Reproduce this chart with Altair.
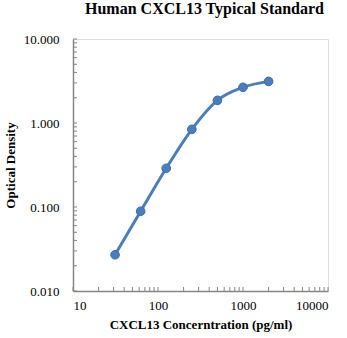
import altair as alt
import pandas as pd

conc = [31.25, 62.5, 125, 250, 500, 1000, 2000]
od = [0.027, 0.089, 0.289, 0.84, 1.86, 2.66, 3.13]

x_ticks = [10, 100, 1000, 10000]
y_ticks = [0.01, 0.1, 1, 10]
x_minor = [m * d for d in [10, 100, 1000] for m in range(1, 11)]
y_minor = [m * d for d in [0.01, 0.1, 1] for m in range(1, 11)]

df = pd.DataFrame({"conc": conc, "od": od})
xt = pd.DataFrame({"v": sorted(set(x_minor))})
yt = pd.DataFrame({"v": sorted(set(y_minor))})

FONT = "Liberation Serif"
AXIS_COLOR = "#868686"
BLUE = "#4a7ebb"

xscale = alt.Scale(type="log", domain=[10, 10000], nice=False)
yscale = alt.Scale(type="log", domain=[0.01, 10], nice=False)

xaxis = alt.Axis(
    values=x_ticks, format="d", title="CXCL13 Concerntration (pg/ml)",
    grid=False, ticks=False, tickSize=0, labelPadding=8,
    domainColor=AXIS_COLOR, domainWidth=1.5,
    labelFont=FONT, labelFontSize=13, labelColor="#000000",
    titleFont=FONT, titleFontSize=13, titleFontWeight="bold",
    titleColor="#000000", titlePadding=6,
)
yaxis = alt.Axis(
    values=y_ticks, format=".3f", title="Optical Density",
    grid=False, ticks=False, tickSize=0, labelPadding=14,
    domainColor=AXIS_COLOR, domainWidth=1.5,
    labelFont=FONT, labelFontSize=13, labelColor="#000000",
    titleFont=FONT, titleFontSize=13, titleFontWeight="bold",
    titleColor="#000000", titlePadding=6,
)

line = alt.Chart(df).mark_line(
    interpolate="monotone", color=BLUE, strokeWidth=3
).encode(
    x=alt.X("conc:Q", scale=xscale, axis=xaxis),
    y=alt.Y("od:Q", scale=yscale, axis=yaxis),
)
pts = alt.Chart(df).mark_point(
    filled=True, size=75, color=BLUE, stroke="#3a6cb0", strokeWidth=1, opacity=1
).encode(
    x=alt.X("conc:Q", scale=xscale),
    y=alt.Y("od:Q", scale=yscale),
)
xtick = alt.Chart(xt).mark_rule(color=AXIS_COLOR, strokeWidth=1).encode(
    x=alt.X("v:Q", scale=xscale),
    y=alt.value(252), y2=alt.value(248),
)
ytick = alt.Chart(yt).mark_rule(color=AXIS_COLOR, strokeWidth=1).encode(
    y=alt.Y("v:Q", scale=yscale),
    x=alt.value(0), x2=alt.value(4),
)

chart = alt.layer(xtick, ytick, line, pts).properties(
    width=255, height=252,
    title=alt.TitleParams(
        "Human CXCL13 Typical Standard", font=FONT, fontSize=16,
        fontWeight="bold", color="#000000", anchor="middle", offset=16, dx=4,
    ),
    autosize=alt.AutoSizeParams(type="none"),
    padding={"left": 73, "top": 39, "right": 19, "bottom": 47},
).configure_view(stroke=None).configure(background="white")

chart.save("out.html", embed_options={"renderer": "svg", "actions": False})
